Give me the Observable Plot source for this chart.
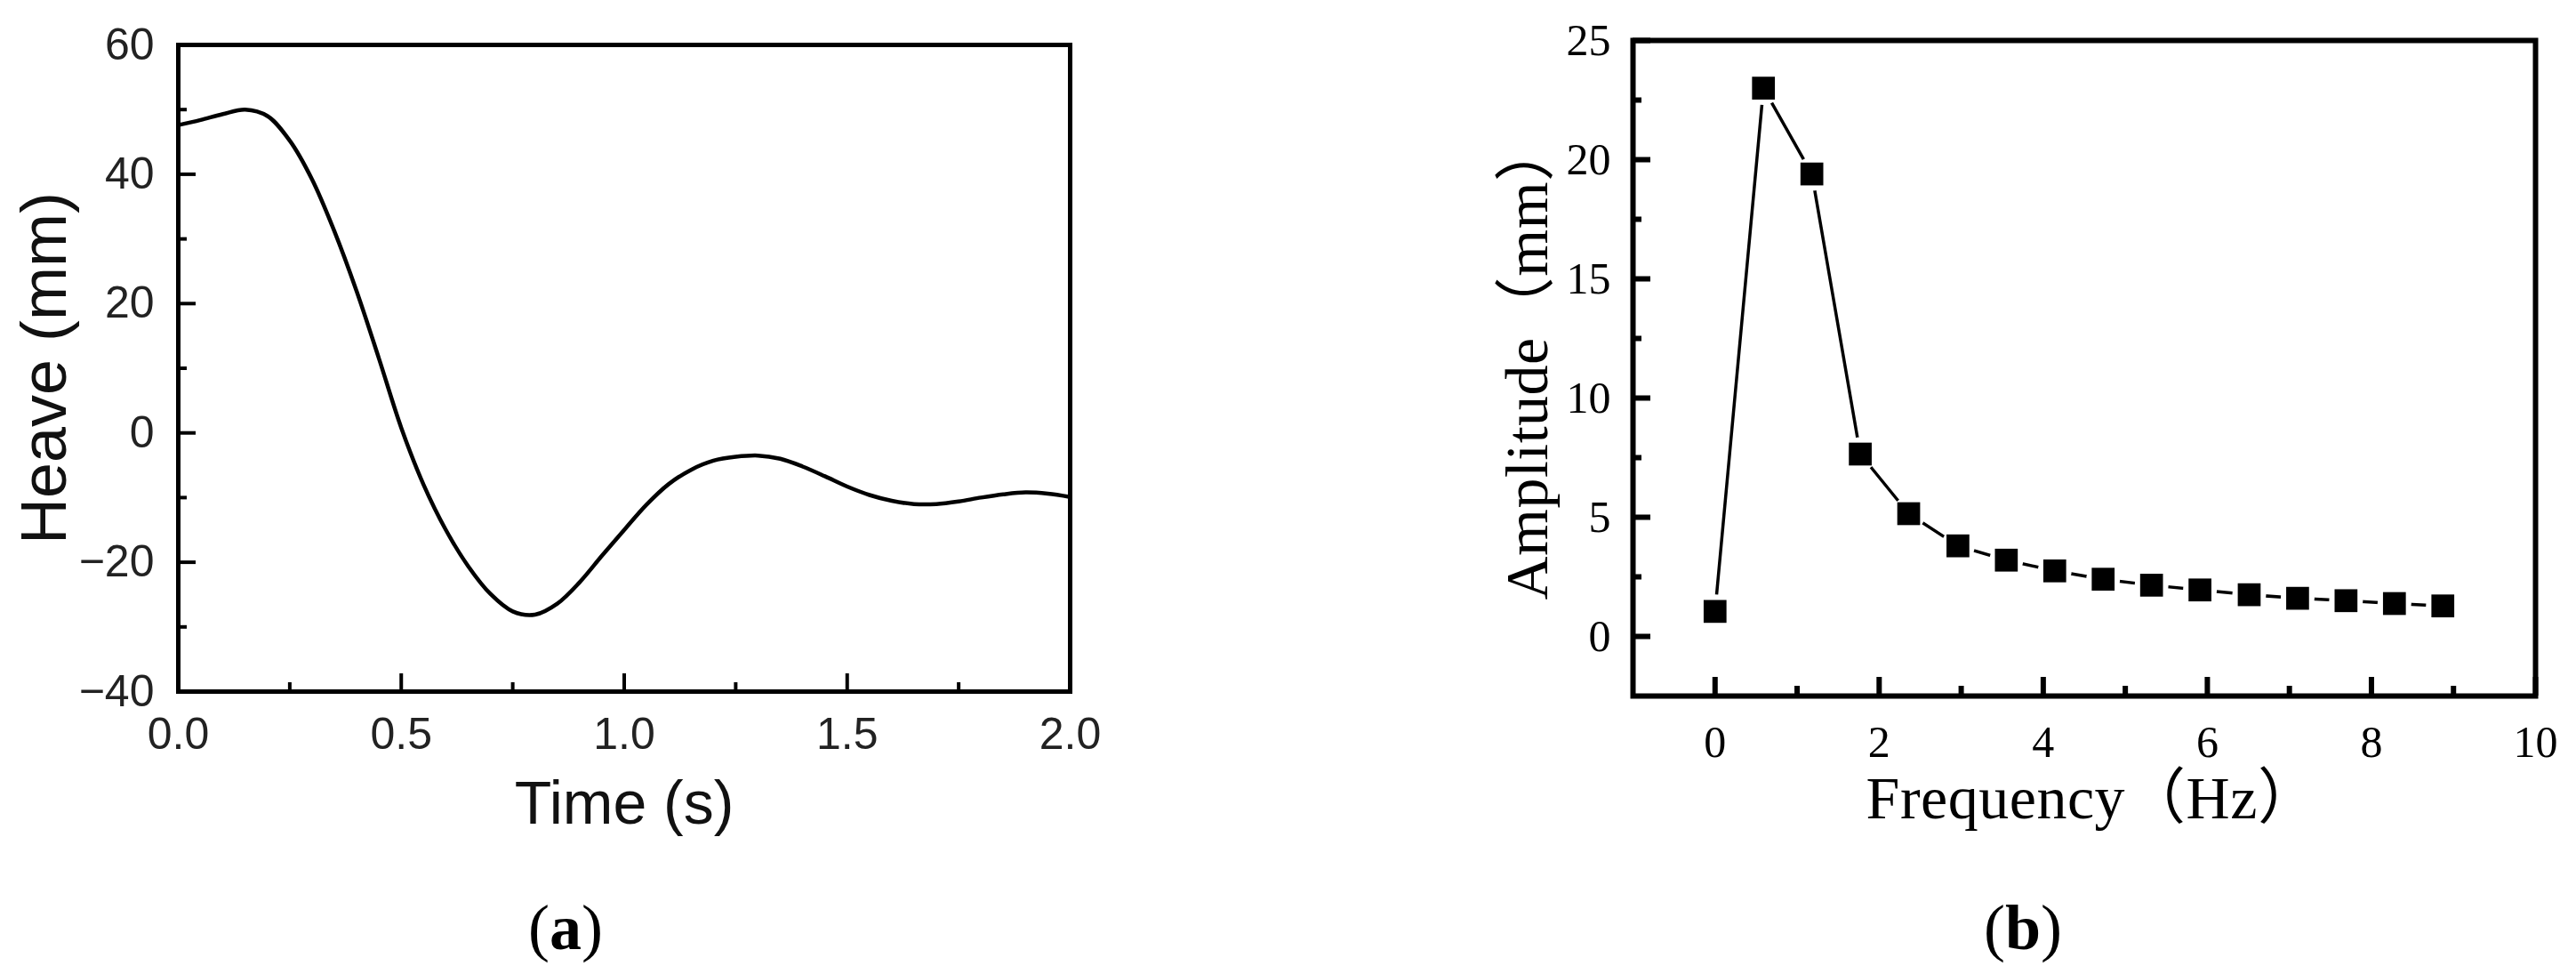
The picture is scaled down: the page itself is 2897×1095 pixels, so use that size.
<!DOCTYPE html>
<html><head><meta charset="utf-8">
<script src="https://cdn.jsdelivr.net/npm/d3@7"></script>
<script src="https://cdn.jsdelivr.net/npm/@observablehq/plot@0.6"></script>
<style>
html,body{margin:0;padding:0;background:#fff;}
#fig{position:relative;width:2897px;height:1095px;overflow:hidden;background:#fff;}
.panel{position:absolute;top:0;}
.cap{position:absolute;font-family:"Liberation Serif","Times New Roman",serif;font-size:72px;line-height:1;transform:translate(-50%,-50%);white-space:nowrap;color:#000;}
</style></head><body><div id="fig"></div>
<script>
// ---- Panel (a): heave time history ----
const heaveTime  = [0.00,0.05,0.10,0.15,0.20,0.25,0.30,0.35,0.40,0.45,0.50,0.55,0.60,0.65,0.70,0.75,0.80,0.85,0.90,0.95,1.00,1.05,1.10,1.15,1.20,1.25,1.30,1.35,1.40,1.45,1.50,1.55,1.60,1.65,1.70,1.75,1.80,1.85,1.90,1.95,2.00];
const heaveValue = [47.6,48.4,49.3,50.0,49.0,45.2,39.2,31.2,21.9,11.5,0.8,-8.0,-15.0,-20.6,-24.9,-27.6,-28.1,-26.4,-23.1,-19.0,-15.0,-11.1,-7.9,-5.7,-4.3,-3.7,-3.5,-4.0,-5.2,-6.7,-8.3,-9.6,-10.5,-11.0,-11.0,-10.6,-10.0,-9.5,-9.2,-9.4,-9.9];
const heaveXTicks = [0, 0.5, 1, 1.5, 2];
const heaveXMinor = [0.25, 0.75, 1.25, 1.75];
const heaveYTicks = [-40, -20, 0, 20, 40, 60];
const heaveYMinor = [-30, -10, 10, 30, 50];
const heaveXLabel = "Time (s)";
const heaveYLabel = "Heave (mm)";

// ---- Panel (b): amplitude spectrum ----
const freqHz      = [0, 0.59, 1.18, 1.77, 2.36, 2.96, 3.55, 4.14, 4.73, 5.32, 5.91, 6.51, 7.10, 7.69, 8.28, 8.87];
const amplitudeMm = [1.05, 23.0, 19.4, 7.65, 5.15, 3.8, 3.2, 2.75, 2.4, 2.15, 1.95, 1.75, 1.6, 1.5, 1.38, 1.28];
const freqXTicks = [0, 2, 4, 6, 8, 10];
const freqXMinor = [1, 3, 5, 7, 9];
const ampYTicks  = [0, 5, 10, 15, 20, 25];
const ampYMinor  = [2.5, 7.5, 12.5, 17.5, 22.5];
const freqXLabel = "Frequency（Hz）";
const ampYLabel  = "Amplitude（mm）";

const captions = ["a", "b"];

const fig = document.getElementById("fig");

// Panel (a)
{
  const W = 1250, H = 960, mL = 200, mR = 47, mT = 50, mB = 183;
  const pw = W - mL - mR, ph = H - mT - mB;
  const heave = heaveTime.map((t, i) => ({t, v: heaveValue[i]}));
  const sans = '"Liberation Sans", Arial, sans-serif';
  const p = Plot.plot({
    width: W, height: H, marginLeft: mL, marginRight: mR, marginTop: mT, marginBottom: mB,
    style: {fontFamily: sans, background: "white", color: "black", overflow: "visible"},
    x: {domain: [0, 2], label: null},
    y: {domain: [-40, 60], label: null},
    marks: [
      Plot.line(heave, {x: "t", y: "v", stroke: "black", strokeWidth: 4.5, curve: "catmull-rom"}),
      Plot.ruleX(heaveXTicks, {stroke: "black", strokeWidth: 4, insetTop: ph - 20}),
      Plot.ruleX(heaveXMinor, {stroke: "black", strokeWidth: 4, insetTop: ph - 10}),
      Plot.ruleY(heaveYTicks, {stroke: "black", strokeWidth: 4, insetRight: pw - 20}),
      Plot.ruleY(heaveYMinor, {stroke: "black", strokeWidth: 4, insetRight: pw - 10}),
      Plot.axisX(heaveXTicks, {tickSize: 0, tickPadding: 29, tickFormat: d3.format(".1f"), fontSize: 50, fill: "#222", label: null}),
      Plot.axisY(heaveYTicks, {tickSize: 0, tickPadding: 27, fontSize: 50, fill: "#222", label: null}),
      Plot.text([heaveXLabel], {text: d => d, frameAnchor: "bottom", dy: 127, fontSize: 68, textAnchor: "middle", lineAnchor: "middle", fill: "#111"}),
      Plot.text([heaveYLabel], {text: d => d, frameAnchor: "left", dx: -150, rotate: -90, fontSize: 72, textAnchor: "middle", lineAnchor: "middle", fill: "#111"}),
      Plot.frame({stroke: "black", strokeWidth: 5})
    ]
  });
  p.classList.add("panel");
  p.style.left = "0px";
  fig.appendChild(p);
}

// Panel (b)
{
  const X0 = 1500;
  const W = 1397, H = 960, mL = 336, mR = 46, mT = 45, mB = 178;
  const pw = W - mL - mR, ph = H - mT - mB;
  const amp = freqHz.map((f, i) => ({f, a: amplitudeMm[i]}));
  const serif = '"Liberation Serif", "Noto Sans CJK SC", serif';
  const p = Plot.plot({
    width: W, height: H, marginLeft: mL, marginRight: mR, marginTop: mT, marginBottom: mB,
    style: {fontFamily: serif, background: "white", color: "black", overflow: "visible"},
    x: {domain: [-1, 10], label: null},
    y: {domain: [-2.5, 25], label: null},
    marks: [
      Plot.line(amp, {x: "f", y: "a", stroke: "black", strokeWidth: 3.5}),
      Plot.dot(amp, {x: "f", y: "a", r: 19, fill: "white", stroke: null}),
      Plot.dot(amp, {x: "f", y: "a", r: 14.5, symbol: "square", fill: "black", stroke: null}),
      Plot.ruleX(freqXTicks, {stroke: "black", strokeWidth: 6, insetTop: ph - 21}),
      Plot.ruleX(freqXMinor, {stroke: "black", strokeWidth: 6, insetTop: ph - 11}),
      Plot.ruleY(ampYTicks, {stroke: "black", strokeWidth: 6, insetRight: pw - 20}),
      Plot.ruleY(ampYMinor, {stroke: "black", strokeWidth: 6, insetRight: pw - 10}),
      Plot.axisX(freqXTicks, {tickSize: 0, tickPadding: 33, fontSize: 50, label: null}),
      Plot.axisY(ampYTicks, {tickSize: 0, tickPadding: 25, fontSize: 50, label: null}),
      Plot.text([freqXLabel], {text: d => d, frameAnchor: "bottom", dx: 9, dy: 116, fontSize: 68, textAnchor: "middle", lineAnchor: "middle"}),
      Plot.text([ampYLabel], {text: d => d, frameAnchor: "left", dx: -118, dy: -9, rotate: -90, fontSize: 68, textAnchor: "middle", lineAnchor: "middle"}),
      Plot.frame({stroke: "black", strokeWidth: 6})
    ]
  });
  p.classList.add("panel");
  p.style.left = X0 + "px";
  p.querySelectorAll("text").forEach(t => {
    if (t.textContent === freqXLabel || t.textContent === ampYLabel) t.setAttribute("letter-spacing", "0.5");
  });
  fig.appendChild(p);
}

// Captions
[[636, 1043], [2275, 1043]].forEach(([x, y], i) => {
  const d = document.createElement("div");
  d.className = "cap";
  d.style.left = x + "px";
  d.style.top = y + "px";
  d.innerHTML = "(<b>" + captions[i] + "</b>)";
  fig.appendChild(d);
});
</script></body></html>
